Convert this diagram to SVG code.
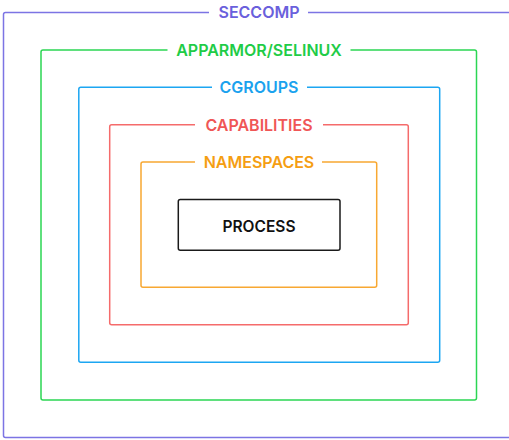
<svg xmlns="http://www.w3.org/2000/svg" width="509" height="440" viewBox="0 0 509 440">
  <style>
    .layer { fill: none; stroke-width: 1.5; }
    .lbl { font-family: Inter, "Liberation Sans", sans-serif; font-weight: 600; font-size: 16px; text-anchor: middle; }
    .gap { fill: #ffffff; }
    #seccomp .layer { stroke: #7c74e4; }
    #seccomp .lbl { fill: #6a60dc; }
    #apparmor .layer { stroke: #2bd653; }
    #apparmor .lbl { fill: #1fcc47; }
    #cgroups .layer { stroke: #1ca6f2; }
    #cgroups .lbl { fill: #1aa2ee; }
    #capabilities .layer { stroke: #f56b6b; }
    #capabilities .lbl { fill: #f05656; }
    #namespaces .layer { stroke: #f8a832; }
    #namespaces .lbl { fill: #f59e12; }
    #process .box { fill: #ffffff; stroke: #1a1a1a; stroke-width: 1.5; }
    #process .lbl { fill: #111111; font-size: 15.5px; }
  </style>
  <rect width="509" height="440" fill="#ffffff"/>

  <!-- outermost: syscall filter -->
  <g id="seccomp">
    <rect class="layer" x="3.5" y="12.5" width="511" height="425" rx="2"/>
    <rect class="gap" x="209" y="4" width="99" height="18"/>
    <text class="lbl" x="259" y="18">SECCOMP</text>
  </g>

  <!-- mandatory access control -->
  <g id="apparmor">
    <rect class="layer" x="41" y="50" width="435.5" height="350" rx="2"/>
    <rect class="gap" x="167.5" y="41" width="183" height="18"/>
    <text class="lbl" x="259" y="55.5">APPARMOR/SELINUX</text>
  </g>

  <!-- resource limits -->
  <g id="cgroups">
    <rect class="layer" x="78.8" y="87.3" width="360.9" height="275" rx="2"/>
    <rect class="gap" x="212" y="78" width="95" height="18"/>
    <text class="lbl" x="259" y="93">CGROUPS</text>
  </g>

  <!-- privilege splitting -->
  <g id="capabilities">
    <rect class="layer" x="109.7" y="124.7" width="298.6" height="200" rx="2"/>
    <rect class="gap" x="195" y="116" width="128" height="18"/>
    <text class="lbl" x="259" y="130.5">CAPABILITIES</text>
  </g>

  <!-- isolated views -->
  <g id="namespaces">
    <rect class="layer" x="141" y="162" width="235.7" height="125.3" rx="2"/>
    <rect class="gap" x="195" y="153" width="127" height="18"/>
    <text class="lbl" x="259" y="168">NAMESPACES</text>
  </g>

  <g id="process">
    <rect class="box" x="178.3" y="199.5" width="161.7" height="50.8" rx="2"/>
    <text class="lbl" x="259" y="232.3">PROCESS</text>
  </g>
</svg>
